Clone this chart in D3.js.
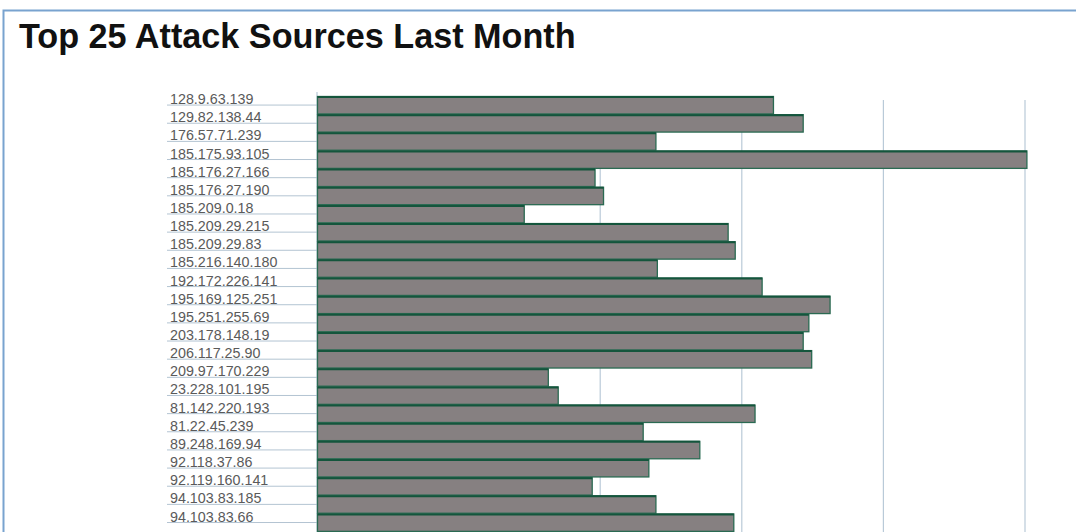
<!DOCTYPE html>
<html>
<head>
<meta charset="utf-8">
<script src="https://cdn.jsdelivr.net/npm/d3@7"></script>
<style>
  html, body { margin: 0; padding: 0; background: #fff; overflow: hidden; }
  svg { display: block; font-family: Arial, "Liberation Sans", sans-serif; }
</style>
</head>
<body>
<div id="chart"></div>
<script>
// fuentes de ataque (la fila 25 queda fuera de la imagen)
const sources = [
  '128.9.63.139', '129.82.138.44', '176.57.71.239', '185.175.93.105',
  '185.176.27.166', '185.176.27.190', '185.209.0.18', '185.209.29.215',
  '185.209.29.83', '185.216.140.180', '192.172.226.141', '195.169.125.251',
  '195.251.255.69', '203.178.148.19', '206.117.25.90', '209.97.170.229',
  '23.228.101.195', '81.142.220.193', '81.22.45.239', '89.248.169.94',
  '92.118.37.86', '92.119.160.141', '94.103.83.185', '94.103.83.66'
];
const attacks = [
  3.22, 3.43, 2.39, 5.01, 1.96, 2.02, 1.46, 2.90, 2.95, 2.40,
  3.14, 3.62, 3.47, 3.43, 3.49, 1.63, 1.70, 3.09, 2.30, 2.70,
  2.34, 1.94, 2.39, 2.94
];
const gridTicks = [0, 1, 2, 3, 4, 5];

const W = 1076, H = 532;
const svg = d3.select('#chart').append('svg')
  .attr('width', W).attr('height', H);

// marco azul
svg.append('rect')
  .attr('x', 3.5).attr('y', 10.5)
  .attr('width', W + 20).attr('height', H + 20)
  .attr('fill', 'none').attr('stroke', '#79a3cf').attr('stroke-width', 2);

svg.append('text')
  .attr('x', 19).attr('y', 47.5)
  .attr('font-size', 34.2).attr('font-weight', 'bold')
  .attr('fill', '#111')
  .text('Top 25 Attack Sources Last Month');

const x = d3.scaleLinear().domain([0, 5]).range([317, 1025]);
const y = d3.scaleBand().domain(sources)
  .range([96.5, 96.5 + 24 * 18.12]).paddingInner(0.04);

// rejilla vertical
svg.append('g').selectAll('line')
  .data(gridTicks)
  .join('line')
    .attr('x1', d => x(d)).attr('x2', d => x(d))
    .attr('y1', d => d === 0 ? 92 : 100).attr('y2', H)
    .attr('stroke', '#b9cad8').attr('stroke-width', 1.2);

// líneas bajo etiquetas
const rows = svg.append('g');
rows.selectAll('line')
  .data(sources)
  .join('line')
    .attr('x1', 167).attr('x2', x(0))
    .attr('y1', d => y(d) + y.step() / 2 - 0.5)
    .attr('y2', d => y(d) + y.step() / 2 - 0.5)
    .attr('stroke', '#b3c4d2').attr('stroke-width', 1);
rows.selectAll('text')
  .data(sources)
  .join('text')
    .attr('x', 170)
    .attr('y', d => y(d) + y.step() / 2 - 1.5)
    .attr('font-size', 14.3)
    .attr('fill', '#5a5a5a')
    .text(d => d);

// barras
const bars = svg.append('g');
bars.selectAll('rect')
  .data(attacks)
  .join('rect')
    .attr('x', x(0) + 0.5)
    .attr('y', (d, i) => y(sources[i]))
    .attr('width', d => x(d) - x(0))
    .attr('height', y.bandwidth())
    .attr('fill', '#868081')
    .attr('stroke', '#2a6a52').attr('stroke-width', 1.3);
bars.selectAll('line')
  .data(attacks)
  .join('line')
    .attr('x1', x(0) + 0.5).attr('x2', d => x(d) + 0.5)
    .attr('y1', (d, i) => y(sources[i]) + 0.5)
    .attr('y2', (d, i) => y(sources[i]) + 0.5)
    .attr('stroke', '#14553c').attr('stroke-width', 2);
</script>
</body>
</html>
